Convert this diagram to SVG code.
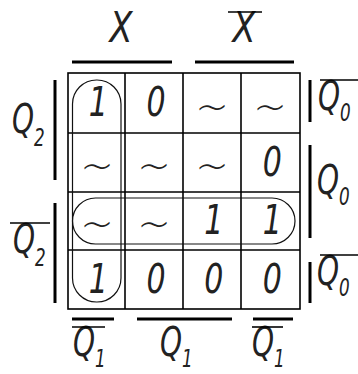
<svg xmlns="http://www.w3.org/2000/svg" width="358" height="374" viewBox="0 0 358 374">
<style>
  .grid{fill:none;stroke:#000;stroke-width:1.6}
  .bar{stroke:#000;stroke-width:3;stroke-linecap:butt}
  .ov{stroke:#000;stroke-width:1.6}
  .loop{fill:none;stroke:#111;stroke-width:1.2}
  .v{font-family:"DejaVu Sans ExtraLight","DejaVu Sans",sans-serif;font-weight:200;font-style:oblique;font-size:40px;fill:#222;text-anchor:middle}
  .t{font-family:"DejaVu Sans ExtraLight","DejaVu Sans",sans-serif;font-weight:200;font-size:40px;fill:#222;text-anchor:middle}
  .lab{font-family:"DejaVu Sans ExtraLight","DejaVu Sans",sans-serif;font-weight:200;font-style:oblique;font-size:40px;fill:#222}
  .sub{font-size:24px}
</style>
<rect width="358" height="374" fill="#fff"/>
<g id="grid">
  <rect class="grid" x="68" y="73" width="232" height="236"/>
  <line class="grid" x1="125" y1="73" x2="125" y2="309"/>
  <line class="grid" x1="183" y1="73" x2="183" y2="309"/>
  <line class="grid" x1="241" y1="73" x2="241" y2="309"/>
  <line class="grid" x1="68" y1="133" x2="300" y2="133"/>
  <line class="grid" x1="68" y1="192" x2="300" y2="192"/>
  <line class="grid" x1="68" y1="250" x2="300" y2="250"/>
</g>
<g id="cells">
  <g transform="scale(0.75,1)">
    <text class="v" x="131" y="116">1</text>
    <text class="v" x="208" y="116">0</text>
    <text class="v" x="363" y="176">0</text>
    <text class="v" x="285" y="234">1</text>
    <text class="v" x="363" y="234">1</text>
    <text class="v" x="131" y="293">1</text>
    <text class="v" x="208" y="293">0</text>
    <text class="v" x="285" y="293">0</text>
    <text class="v" x="363" y="293">0</text>
  </g>
  <text class="t" x="212" y="121">~</text>
  <text class="t" x="270" y="121">~</text>
  <text class="t" x="97" y="180">~</text>
  <text class="t" x="154" y="180">~</text>
  <text class="t" x="212" y="180">~</text>
  <text class="t" x="97" y="238">~</text>
  <text class="t" x="154" y="238">~</text>
</g>
<g id="loops">
  <rect class="loop" x="72.5" y="80" width="48.5" height="222" rx="24" ry="24"/>
  <rect class="loop" x="72.5" y="198" width="222.5" height="46" rx="23" ry="23"/>
</g>
<g id="bars">
  <line class="bar" x1="72" y1="62" x2="172" y2="62"/>
  <line class="bar" x1="195" y1="62" x2="294" y2="62"/>
  <line class="bar" x1="55" y1="80" x2="55" y2="180"/>
  <line class="bar" x1="55" y1="203" x2="55" y2="303"/>
  <line class="bar" x1="310" y1="80" x2="310" y2="122"/>
  <line class="bar" x1="310" y1="145" x2="310" y2="238"/>
  <line class="bar" x1="310" y1="262" x2="310" y2="303"/>
  <line class="bar" x1="72" y1="319" x2="114" y2="319"/>
  <line class="bar" x1="137" y1="319" x2="232" y2="319"/>
  <line class="bar" x1="253" y1="319" x2="293" y2="319"/>
</g>
<g id="labels">
  <g id="lab-x" transform="translate(121,42) scale(0.8,1)"><text class="v" x="0" y="0" style="font-size:42px">X</text></g>
  <g id="lab-xbar" transform="translate(244,42) scale(0.8,1)"><text class="v" x="0" y="0" style="font-size:42px">X</text></g>
  <line class="ov" x1="228" y1="12" x2="262" y2="12"/>

  <g id="lab-q2" transform="translate(12,133) scale(0.7,1)"><text class="lab" x="0" y="0">Q<tspan class="sub" dx="0" dy="13">2</tspan></text></g>
  <g id="lab-q2bar" transform="translate(13,253) scale(0.7,1)"><text class="lab" x="0" y="0">Q<tspan class="sub" dx="0" dy="13">2</tspan></text></g>
  <line class="ov" x1="10" y1="223" x2="50" y2="223"/>

  <g id="lab-q0bar-top" transform="translate(318,110) scale(0.7,1)"><text class="lab" x="0" y="0">Q<tspan class="sub" dx="0" dy="11">0</tspan></text></g>
  <line class="ov" x1="320" y1="80" x2="358" y2="80"/>
  <g id="lab-q0" transform="translate(317,194) scale(0.7,1)"><text class="lab" x="0" y="0">Q<tspan class="sub" dx="0" dy="11">0</tspan></text></g>
  <g id="lab-q0bar-bot" transform="translate(317,285) scale(0.7,1)"><text class="lab" x="0" y="0">Q<tspan class="sub" dx="0" dy="11">0</tspan></text></g>
  <line class="ov" x1="320" y1="255" x2="358" y2="255"/>

  <g id="lab-q1bar-l" transform="translate(73,356) scale(0.7,1)"><text class="lab" x="0" y="0">Q<tspan class="sub" dx="0" dy="11">1</tspan></text></g>
  <line class="ov" x1="72" y1="327" x2="105" y2="327"/>
  <g id="lab-q1" transform="translate(160,356) scale(0.7,1)"><text class="lab" x="0" y="0">Q<tspan class="sub" dx="0" dy="11">1</tspan></text></g>
  <g id="lab-q1bar-r" transform="translate(252,356) scale(0.7,1)"><text class="lab" x="0" y="0">Q<tspan class="sub" dx="0" dy="11">1</tspan></text></g>
  <line class="ov" x1="252" y1="327" x2="283" y2="327"/>
</g>
</svg>
